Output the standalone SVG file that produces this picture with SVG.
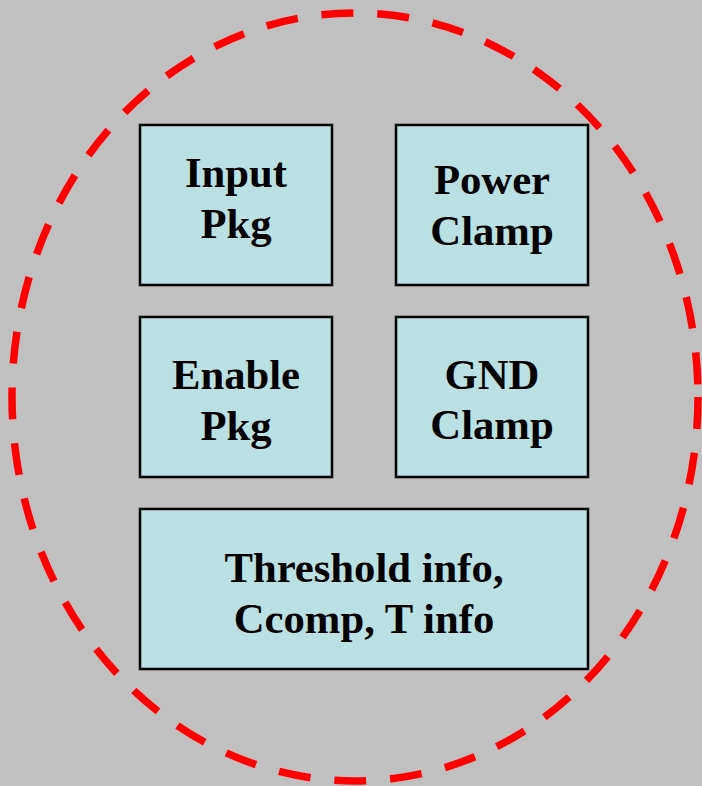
<svg xmlns="http://www.w3.org/2000/svg" width="702" height="786" viewBox="0 0 702 786">
<style>
.box{fill:#BBE0E3;stroke:#000;stroke-width:2.5}
.t{font-family:"Liberation Serif","Times New Roman",serif;font-weight:bold;font-size:42.7px;fill:#000;text-anchor:middle}
</style>
<rect x="0" y="0" width="702" height="786" fill="#C0C0C0"/>
<g id="boundary">
<ellipse cx="355" cy="397" rx="343" ry="384" fill="none" stroke="#FF0000" stroke-width="7.5" stroke-dasharray="32 24"/>
</g>
<g id="connectors"></g>
<g id="input-pkg">
<rect class="box" x="140" y="125" width="192" height="160"/>
<text class="t" x="236" y="187">Input</text>
<text class="t" x="236" y="238">Pkg</text>
</g>
<g id="power-clamp">
<rect class="box" x="396" y="125" width="192" height="160"/>
<text class="t" x="492" y="194">Power</text>
<text class="t" x="492" y="245">Clamp</text>
</g>
<g id="enable-pkg">
<rect class="box" x="140" y="317" width="192" height="160"/>
<text class="t" x="236" y="389">Enable</text>
<text class="t" x="236" y="440">Pkg</text>
</g>
<g id="gnd-clamp">
<rect class="box" x="396" y="317" width="192" height="160"/>
<text class="t" x="492" y="389">GND</text>
<text class="t" x="492" y="439">Clamp</text>
</g>
<g id="threshold-info">
<rect class="box" x="140" y="509" width="448" height="160"/>
<text class="t" x="364" y="582">Threshold info,</text>
<text class="t" x="364" y="633">Ccomp, T info</text>
</g>
</svg>
